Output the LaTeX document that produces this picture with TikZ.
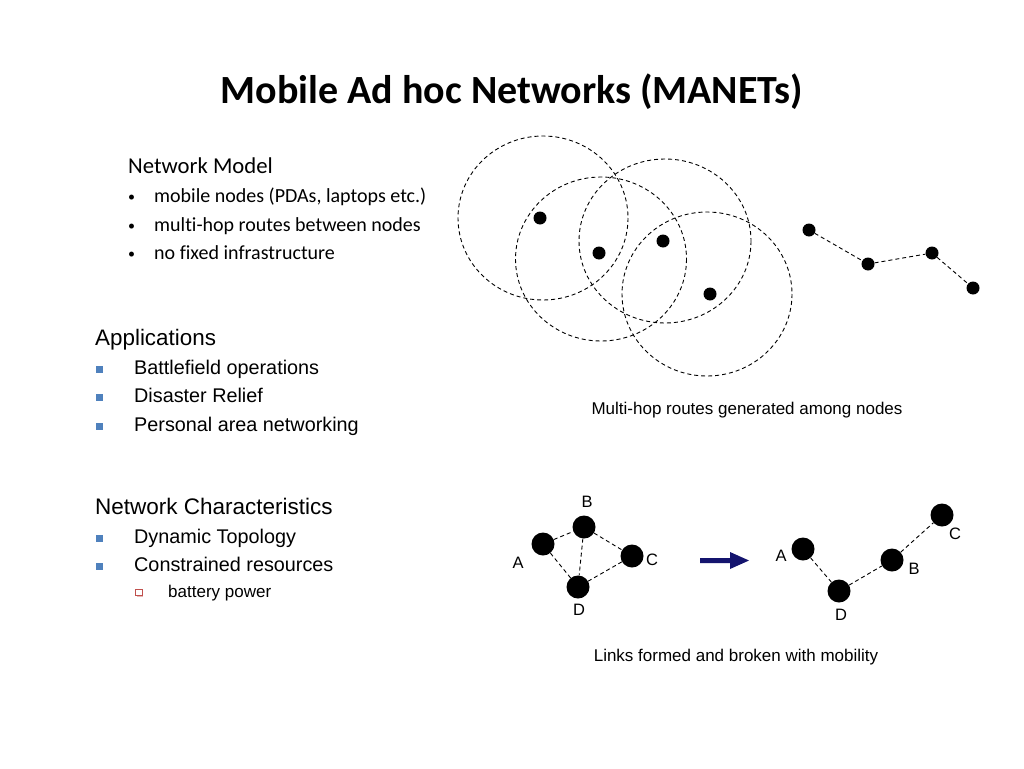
\documentclass[tikz,border=0pt]{standalone}
\usepackage{fontspec}
\setmainfont{Liberation Sans}
\newfontfamily\calibri[Ligatures=NoCommon]{Carlito}
\begin{document}
\begin{tikzpicture}[x=1pt,y=-1pt,
  dline/.style={draw=black,line width=0.9pt,dash pattern=on 4pt off 3pt},
  sdot/.style={circle,fill=black,inner sep=0pt,minimum size=13pt},
  bdot/.style={circle,fill=black,inner sep=0pt,minimum size=23pt},
  lbl/.style={font=\fontsize{16.5}{19}\selectfont,inner sep=0pt},
  txt/.style={anchor=base west,inner sep=0pt},
  bsq/.style={fill=blueb,draw=none},
]
\definecolor{blueb}{RGB}{79,129,189}
\definecolor{redb}{RGB}{192,80,77}
\definecolor{navy}{RGB}{20,20,110}
\useasboundingbox (0,0) rectangle (1024,768);
\fill[white] (0,0) rectangle (1024,768);
% title
\node[inner sep=0pt,font=\calibri\bfseries\fontsize{40}{44}\selectfont] (title) at (512,92) {Mobile Ad hoc Networks (MANETs)};
% network model
\node[txt,font=\calibri\fontsize{22.7}{26}\selectfont] (nm) at (128,173) {Network Model};
\foreach \t/\y [count=\i] in {{mobile nodes (PDAs, laptops etc.)}/202,{multi-hop routes between nodes}/231,{no fixed infrastructure}/259}{
  \node[txt,font=\calibri\fontsize{14}{20}\selectfont] (nmb\i) at (128,\y-1) {•};
  \node[txt,font=\calibri\fontsize{20}{24}\selectfont] (nmi\i) at (154,\y) {\t};
}
% applications
\node[txt,font=\fontsize{22.4}{26}\selectfont] (app) at (95,345) {Applications};
\foreach \t/\y [count=\i] in {{Battlefield operations}/374,{Disaster Relief}/402,{Personal area networking}/431}{
  \fill[bsq] (96,\y-8.5) rectangle (103,\y-1.5);
  \node[txt,font=\fontsize{19.8}{22}\selectfont] (appi\i) at (134,\y) {\t};
}
% characteristics
\node[txt,font=\fontsize{22.5}{26}\selectfont] (nc) at (95,514) {Network Characteristics};
\foreach \t/\y [count=\i] in {{Dynamic Topology}/543,{Constrained resources}/571}{
  \fill[bsq] (96,\y-8.5) rectangle (103,\y-1.5);
  \node[txt,font=\fontsize{19.8}{22}\selectfont] (nci\i) at (134,\y) {\t};
}
\draw[redb,line width=0.8pt] (135.5,589) rectangle (142,595.5);
\fill[redb!40] (137,595.5) rectangle (142.5,596.3);
\node[txt,font=\fontsize{17}{20}\selectfont] (bp) at (168,597) {battery power};
% circles
\draw[dline] (543,218) ellipse (85 and 82);
\draw[dline] (601,259) ellipse (85.5 and 82);
\draw[dline] (665,241) ellipse (86 and 82);
\draw[dline] (707,294) ellipse (85 and 82);
\node[sdot] (d1) at (540,218) {};
\node[sdot] (d2) at (599,253) {};
\node[sdot] (d3) at (663,241) {};
\node[sdot] (d4) at (710,294) {};
% chain
\node[sdot] (c1) at (809,230) {};
\node[sdot] (c2) at (868,264) {};
\node[sdot] (c3) at (932,253) {};
\node[sdot] (c4) at (973,288) {};
\draw[dline] (c1) -- (c2) -- (c3) -- (c4);
\node[font=\fontsize{17}{20}\selectfont,inner sep=0pt] (cap1) at (747,410) {Multi-hop routes generated among nodes};
% bottom left graph
\node[bdot] (A) at (543,544) {};
\node[bdot] (B) at (584,527) {};
\node[bdot] (C) at (632,556) {};
\node[bdot] (D) at (578,587) {};
\draw[dline] (A) -- (B) -- (C) -- (D) -- (A);
\draw[dline] (B) -- (D);
\node[lbl] (lA) at (518,563) {A};
\node[lbl] (lB) at (587,502) {B};
\node[lbl] (lC) at (652,560) {C};
\node[lbl] (lD) at (579,610) {D};
% arrow
\fill[navy] (700,558) -- (730,558) -- (730,552) -- (749,560.5) -- (730,569) -- (730,563) -- (700,563) -- cycle;
% bottom right graph
\node[bdot] (A2) at (803,549) {};
\node[bdot] (D2) at (839,591) {};
\node[bdot] (B2) at (892,560) {};
\node[bdot] (C2) at (942,515) {};
\draw[dline] (A2) -- (D2) -- (B2) -- (C2);
\node[lbl] (lA2) at (781,556) {A};
\node[lbl] (lD2) at (841,615) {D};
\node[lbl] (lB2) at (914,569) {B};
\node[lbl] (lC2) at (955,534) {C};
\node[font=\fontsize{17}{20}\selectfont,inner sep=0pt] (cap2) at (736,657) {Links formed and broken with mobility};
\end{tikzpicture}
\end{document}
